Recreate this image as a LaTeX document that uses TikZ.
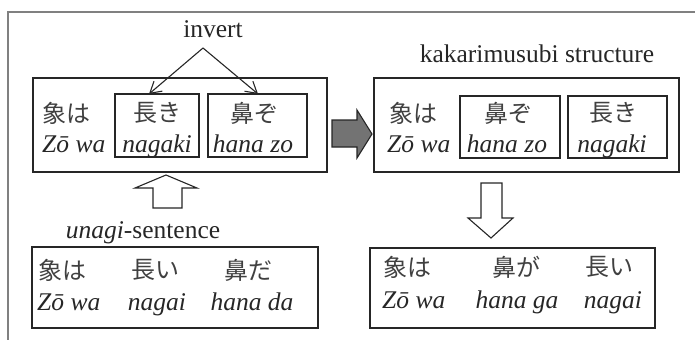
\documentclass[tikz,border=0pt]{standalone}
\usepackage{fontspec}
\setmainfont{Liberation Serif}
\newfontfamily\jpfont{Noto Sans CJK JP}
\usetikzlibrary{arrows.meta}
\tikzset{
  lat/.style={font=\fontsize{25.5}{30}\selectfont\itshape, anchor=base, inner sep=0pt, text=black!85},
  rom/.style={font=\fontsize{25.5}{30}\selectfont, anchor=base, inner sep=0pt, text=black!85},
  jpt/.style={font=\jpfont\fontsize{24}{28}\selectfont, inner sep=0pt, text=black!75},
  box/.style={draw=black!85, line width=1.2pt, inner sep=0pt, outer sep=0pt, anchor=north west},
  frame/.style={draw=black!50, line width=1.6pt},
  blockarrow/.style={draw=black!85, line width=1.1pt, line join=miter},
  inv/.style={draw=black!85, line width=1.1pt, -{Straight Barb[length=11pt,width=13pt,line width=1.1pt]}}
}
\begin{document}
\begin{tikzpicture}[x=1pt,y=-1pt]
\useasboundingbox (0,0) rectangle (695,340);
% partial outer frame
\draw[frame] (695,12) -- (8,12) -- (8,340);

% top-left box
\node[box, minimum width=294pt, minimum height=94pt] (b1) at (33,78) {};
\node[box, minimum width=84pt, minimum height=63pt] (bA) at (115,94) {};
\node[box, minimum width=99pt, minimum height=63pt] (bB) at (208,94) {};
\node[jpt, anchor=west] (t1a) at (42,113) {象は};
\node[lat, anchor=base west] (t1b) at (42,152) {Zō wa};
\node[jpt] (tAa) at (157,113) {長き};
\node[lat] (tAb) at (157,152) {nagaki};
\node[jpt] (tBa) at (254,113) {鼻ぞ};
\node[lat] (tBb) at (253,152) {hana zo};

% invert
\node[rom] (invert) at (213,37) {invert};
\coordinate (apex) at (203,48);
\draw[inv] (apex) -- ([xshift=-8pt]bA.north);
\draw[inv] (apex) -- ([xshift=0.5pt]bB.north);

% top-right box
\node[rom] (kaka) at (537,62) {kakarimusubi structure};
\node[box, minimum width=305pt, minimum height=94pt] (b2) at (374,78) {};
\node[box, minimum width=100pt, minimum height=62pt] (bC) at (460,96) {};
\node[box, minimum width=99pt, minimum height=62pt] (bD) at (568,96) {};
\node[jpt, anchor=west] (t2a) at (389,113) {象は};
\node[lat, anchor=base west] (t2b) at (387,152) {Zō wa};
\node[jpt] (tCa) at (508,113) {鼻ぞ};
\node[lat] (tCb) at (507,152) {hana zo};
\node[jpt] (tDa) at (613,113) {長き};
\node[lat] (tDb) at (612,152) {nagaki};

% gray arrow
\draw[blockarrow, fill=black!55] (332,120) -- (357,120) -- (357,110) -- (372,134) -- (357,158) -- (357,147) -- (332,147) -- cycle;

% up arrow
\draw[blockarrow, fill=white] (153,208) -- (153,188) -- (135,188) -- (166,175) -- (197,188) -- (182,188) -- (182,208) -- cycle;

% down arrow
\draw[blockarrow, fill=white] (481,183) -- (502,183) -- (502,218) -- (513,218) -- (491,238) -- (468,218) -- (481,218) -- cycle;

% bottom-left box
\node[rom] (unagi) at (143,238) {\textit{unagi}-sentence};
\node[box, minimum width=286pt, minimum height=81pt] (b3) at (32,247) {};
\node[jpt, anchor=west] (t3a) at (38,270) {象は};
\node[lat, anchor=base west] (t3b) at (37,310) {Zō wa};
\node[jpt] (t3c) at (155,270) {長い};
\node[lat] (t3d) at (157,310) {nagai};
\node[jpt] (t3e) at (248,270) {鼻だ};
\node[lat] (t3f) at (252,310) {hana da};

% bottom-right box
\node[box, minimum width=285pt, minimum height=80pt] (b4) at (370,248) {};
\node[jpt, anchor=west] (t4a) at (383,267) {象は};
\node[lat, anchor=base west] (t4b) at (382,308) {Zō wa};
\node[jpt] (t4c) at (516,267) {鼻が};
\node[lat] (t4d) at (517,308) {hana ga};
\node[jpt] (t4e) at (609,267) {長い};
\node[lat] (t4f) at (613,308) {nagai};
\end{tikzpicture}
\end{document}
